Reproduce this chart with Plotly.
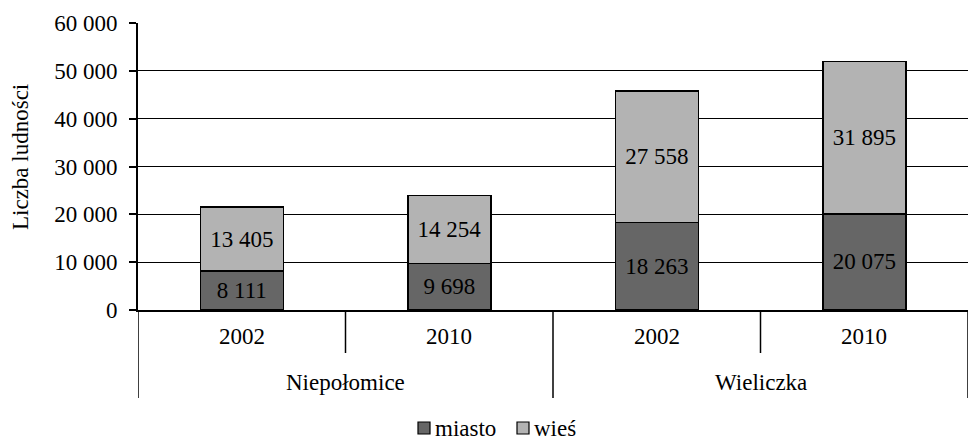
import plotly.graph_objects as go

groups = ["Niepołomice", "Wieliczka"]
years = ["2002", "2010", "2002", "2010"]
miasto = [8111, 9698, 18263, 20075]
wies = [13405, 14254, 27558, 31895]
y_ticks = [0, 10000, 20000, 30000, 40000, 50000, 60000]
series_names = ["miasto", "wieś"]
series_colors = ["#666666", "#b3b3b3"]


def fmt(v):
    return f"{v:,}".replace(",", " ")


FONT = "Liberation Serif, Times New Roman, serif"
FS = 23
L, T, B, W, H = 138, 23, 131, 968, 441
PLOT_W = W - L
PLOT_H = H - T - B


def px2x(px):
    return (px - L) / PLOT_W


def py2y(py):
    return (H - B - py) / PLOT_H


x = list(range(len(years)))

fig = go.Figure()
for name, vals, col in zip(series_names, [miasto, wies], series_colors):
    fig.add_trace(go.Bar(
        x=x, y=vals, name=name, showlegend=False,
        marker=dict(color=col, line=dict(color="black", width=1.5)),
        text=[fmt(v) for v in vals], textposition="inside",
        insidetextanchor="middle", textangle=0, constraintext="none",
        textfont=dict(color="black", size=FS, family=FONT),
        width=0.4, hoverinfo="skip",
    ))

shapes = []
# category dividers
for i in range(len(years) + 1):
    xb = i - 0.5
    long_line = (i % 2 == 0)
    y1 = py2y(398) if long_line else py2y(353)
    shapes.append(dict(type="line", xref="x", yref="paper", x0=xb, x1=xb,
                       y0=0, y1=y1, line=dict(color="black", width=1.5)))

annotations = []
for i, yr in enumerate(years):
    annotations.append(dict(x=i, y=py2y(337), xref="x", yref="paper",
                            text=yr, showarrow=False, yanchor="middle",
                            font=dict(size=FS, family=FONT, color="black")))
for g, name in enumerate(groups):
    annotations.append(dict(x=2 * g + 0.5, y=py2y(382), xref="x", yref="paper",
                            text=name, showarrow=False, yanchor="middle",
                            font=dict(size=FS, family=FONT, color="black")))
annotations.append(dict(x=px2x(20), y=py2y(157), xref="paper", yref="paper",
                        text="Liczba ludności", textangle=-90, showarrow=False,
                        xanchor="center", yanchor="middle",
                        font=dict(size=FS, family=FONT, color="black")))

# legend (manual, Excel-like compact layout)
leg_sq = [(418, 430), (517, 529)]
for (x0, x1), name, col in zip(leg_sq, series_names, series_colors):
    shapes.append(dict(type="rect", xref="paper", yref="paper",
                       x0=px2x(x0), x1=px2x(x1), y0=py2y(422), y1=py2y(434),
                       fillcolor=col, line=dict(color="black", width=1.2)))
    annotations.append(dict(x=px2x(x1 + 3), y=py2y(428), xref="paper", yref="paper",
                            text=name, showarrow=False, xanchor="left",
                            yanchor="middle",
                            font=dict(size=FS, family=FONT, color="black")))

fig.update_layout(
    width=W, height=H,
    margin=dict(l=L, r=0, t=T, b=B),
    barmode="stack",
    plot_bgcolor="white", paper_bgcolor="white",
    font=dict(family=FONT, size=FS, color="black"),
    showlegend=False,
    hovermode=False,
    shapes=shapes,
    annotations=annotations,
)
fig.update_xaxes(range=[-0.5, 3.5], showticklabels=False, showgrid=False,
                 zeroline=False, showline=True, linecolor="black", linewidth=2,
                 ticks="")
fig.update_yaxes(range=[0, 60000], tickvals=y_ticks,
                 ticktext=[fmt(v) for v in y_ticks],
                 showgrid=True, gridcolor="black", gridwidth=1.3,
                 zeroline=False, showline=True, linecolor="black", linewidth=2,
                 ticks="outside", ticklen=7, tickcolor="black", tickwidth=1.5,
                 ticklabelstandoff=7,
                 tickfont=dict(size=FS, family=FONT, color="black"))

fig.write_html("out.html", config={"displayModeBar": False},
               post_script="document.body.style.margin='0';document.body.style.overflow='hidden';")
